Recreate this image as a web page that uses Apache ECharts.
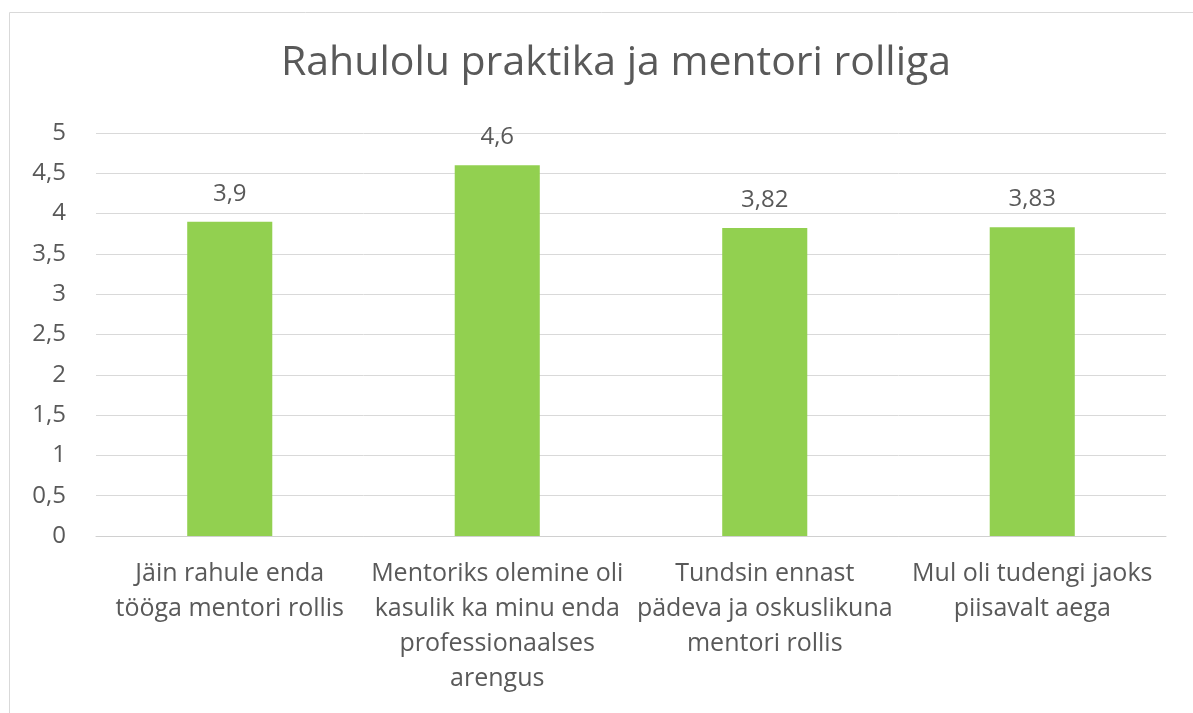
<!DOCTYPE html>
<html>
<head>
<meta charset="utf-8">
<script src="https://cdn.jsdelivr.net/npm/echarts@6/dist/echarts.min.js"></script>
<style>
  html, body { margin: 0; padding: 0; background: #fff; }
  #main { width: 1193px; height: 713px; }
</style>
</head>
<body>
<div id="main"></div>
<script>
    var categories = [
        'Jäin rahule enda\ntööga mentori rollis',
        'Mentoriks olemine oli\nkasulik ka minu enda\nprofessionaalses\narengus',
        'Tundsin ennast\npädeva ja oskuslikuna\nmentori rollis',
        'Mul oli tudengi jaoks\npiisavalt aega'
    ];
    var values = [3.9, 4.6, 3.82, 3.83];
    var titleText = 'Rahulolu praktika ja mentori rolliga';

    // koma kümnendmärgina
    function comma(v) {
        return String(v).replace('.', ',');
    }

    var myChart = echarts.init(document.getElementById('main'));
    var fontFam = '"Open Sans", "Noto Sans", sans-serif';

    var option = {
        animation: false,
        graphic: [{
            type: 'rect',
            shape: { x: 9.5, y: 12.5, width: 1200, height: 720 },
            style: { fill: 'none', stroke: '#d9d9d9', lineWidth: 1 },
            silent: true
        }],
        title: {
            text: titleText,
            left: 276,
            top: 38,
            textStyle: {
                fontFamily: fontFam,
                fontSize: 41,
                fontWeight: 'normal',
                color: '#595959'
            }
        },
        grid: {
            left: 96,
            right: 27,
            top: 133,
            bottom: 177
        },
        xAxis: {
            type: 'category',
            data: categories,
            axisTick: { show: false },
            axisLine: { lineStyle: { color: '#d0d0d0', width: 1 } },
            axisLabel: {
                interval: 0,
                margin: 20,
                fontFamily: fontFam,
                fontSize: 25,
                lineHeight: 35,
                color: '#595959'
            }
        },
        yAxis: {
            type: 'value',
            min: 0,
            max: 5,
            interval: 0.5,
            axisLine: { show: false },
            axisTick: { show: false },
            splitLine: { lineStyle: { color: '#d9d9d9', width: 1 } },
            axisLabel: {
                margin: 30,
                fontFamily: fontFam,
                fontSize: 24,
                color: '#595959',
                formatter: function (v) { return comma(v); }
            }
        },
        series: [{
            type: 'bar',
            data: values,
            barWidth: '31.8%',
            itemStyle: { color: '#92d050' },
            label: {
                show: true,
                position: 'top',
                distance: 16,
                fontFamily: fontFam,
                fontSize: 24,
                color: '#595959',
                formatter: function (p) { return comma(p.value); }
            }
        }]
    };

    myChart.setOption(option);
    window.addEventListener('resize', function () {
        myChart.resize();
    });
</script>
</body>
</html>
